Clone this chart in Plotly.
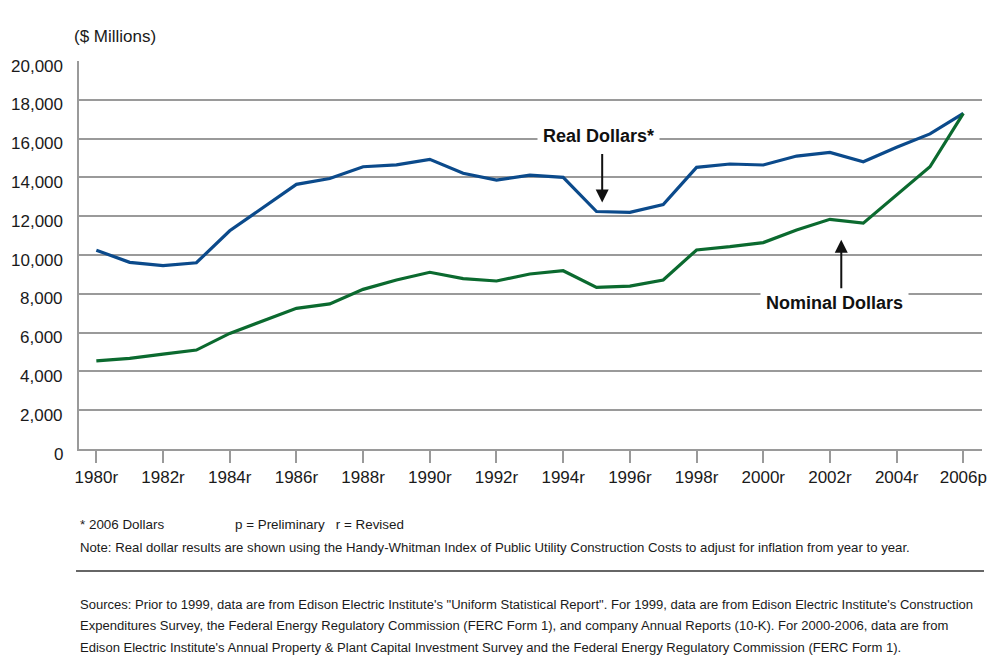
import plotly.graph_objects as go

# Annual capital expenditures, $ millions
years = list(range(1980, 2007))
real_dollars = [10250, 9620, 9450, 9600, 11250, 12450, 13640, 13940, 14550, 14650,
                14930, 14210, 13860, 14120, 14000, 12240, 12200, 12600, 14520, 14690,
                14640, 15100, 15290, 14810, 15550, 16240, 17300]
nominal_dollars = [4540, 4670, 4890, 5100, 5960, 6610, 7250, 7480, 8230, 8710,
                   9110, 8780, 8660, 9020, 9190, 8330, 8400, 8710, 10260, 10430,
                   10640, 11290, 11840, 11640, 13090, 14550, 17300]

tick_years = list(range(1980, 2007, 2))
tick_labels = [f"{y}r" for y in tick_years[:-1]] + ["2006p"]
y_ticks = list(range(0, 20001, 2000))
y_labels = [f"{v:,}" for v in y_ticks]

source_lines = [
    "Sources: Prior to 1999, data are from Edison Electric Institute's \"Uniform Statistical "
    "Report\". For 1999, data are from Edison Electric Institute's Construction",
    "Expenditures Survey, the Federal Energy Regulatory Commission (FERC Form 1), and company "
    "Annual Reports (10-K). For 2000-2006, data are from",
    "Edison Electric Institute's Annual Property &amp; Plant Capital Investment Survey and the "
    "Federal Energy Regulatory Commission (FERC Form 1).",
]
note_text = ("Note: Real dollar results are shown using the Handy-Whitman Index of Public "
             "Utility Construction Costs to adjust for inflation from year to year.")

BLUE = "#0b4a8b"
GREEN = "#0b6a2f"
GRID = "#9a9a9a"
TEXT = "#1a1a1a"
BASE_FONT = "Liberation Sans, Arial, sans-serif"
NOTE_SIZE = 13.4
SOURCE_SIZE = 13.05

fig = go.Figure()
fig.add_trace(go.Scatter(x=years, y=real_dollars, mode="lines",
                         line=dict(color=BLUE, width=3.2), name="Real Dollars"))
fig.add_trace(go.Scatter(x=years, y=nominal_dollars, mode="lines",
                         line=dict(color=GREEN, width=3.2), name="Nominal Dollars"))

# plot area spans 908 x 388 px
PW, PH = 908.0, 388.0


def px_x(px):
    return (px - 79) / PW


def px_y(py):
    return (449 - py) / PH


def note(text, x, y, size=NOTE_SIZE):
    return dict(text=text, x=px_x(x), y=px_y(y), xref="paper", yref="paper",
                xanchor="left", yanchor="middle", showarrow=False,
                font=dict(size=size, color=TEXT, family=BASE_FONT))


annotations = [
    dict(text="($ Millions)", x=px_x(72), y=px_y(36), xref="paper", yref="paper",
         xanchor="left", yanchor="middle", showarrow=False,
         font=dict(size=17, color=TEXT, family=BASE_FONT)),
    # series labels
    dict(text="<b>Real Dollars*</b>", x=1995.05, y=16150, xref="x", yref="y",
         showarrow=False, bgcolor="white", borderpad=5,
         font=dict(size=18, color="#111111", family=BASE_FONT)),
    dict(text="<b>Nominal Dollars</b>", x=2002.13, y=7530, xref="x", yref="y",
         showarrow=False, bgcolor="white", borderpad=5,
         font=dict(size=18, color="#111111", family=BASE_FONT)),
    # pointer arrows
    dict(text="", x=1995.17, y=12700, xref="x", yref="y", ax=0, ay=-50,
         showarrow=True, arrowhead=2, arrowsize=1.3, arrowwidth=2, arrowcolor="#111111"),
    dict(text="", x=2002.34, y=10780, xref="x", yref="y", ax=0, ay=50,
         showarrow=True, arrowhead=2, arrowsize=1.3, arrowwidth=2, arrowcolor="#111111"),
    # footnotes
    note("* 2006 Dollars", 78, 524),
    note("p = Preliminary   r = Revised", 234, 524),
    note(note_text, 78, 547, size=13.2),
]
for i, line in enumerate(source_lines):
    annotations.append(note(line, 78, 604 + 21.5 * i, size=SOURCE_SIZE))

# y tick labels sit slightly below their gridlines
for v, lab in zip(y_ticks, y_labels):
    annotations.append(dict(text=lab, x=px_x(65), y=v, xref="paper", yref="y",
                            xanchor="right", yanchor="middle", yshift=-5, showarrow=False,
                            font=dict(size=17, color=TEXT, family=BASE_FONT)))

fig.update_layout(
    width=995, height=655,
    margin=dict(l=79, r=8, t=61, b=206),
    paper_bgcolor="white", plot_bgcolor="white",
    showlegend=False,
    font=dict(family=BASE_FONT, size=17, color=TEXT),
    annotations=annotations,
    shapes=[dict(type="line", xref="paper", yref="paper",
                 x0=px_x(76), x1=px_x(989), y0=px_y(571), y1=px_y(571),
                 line=dict(color="#666666", width=2))],
    xaxis=dict(range=[1979.48, 2006.56], tickvals=tick_years, ticktext=tick_labels,
               ticks="outside", ticklen=12, tickwidth=2, tickcolor=GRID,
               showgrid=False, zeroline=False, showline=True, linecolor=GRID, linewidth=2,
               tickfont=dict(size=17, color=TEXT)),
    yaxis=dict(range=[0, 20000], tickvals=y_ticks, showticklabels=False,
               showgrid=True, gridcolor=GRID, gridwidth=2, zeroline=False,
               showline=True, linecolor=GRID, linewidth=2, ticks=""),
)

fig.write_html("out.html")
